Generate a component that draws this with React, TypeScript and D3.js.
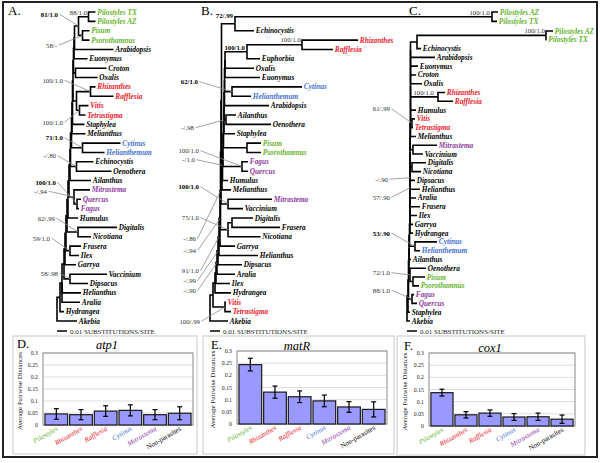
import React from "react";
import * as d3 from "d3";

// ---------------- DATA ----------------
// Phylograms (Newick, branch lengths in substitutions/site), leaves listed top to bottom
const NEWICK_A = [
  "((((((((((",
  "((((((((",
  "((Pilostyles TX:0.007,Pilostyles AZ:0.007):0.010,(Pisum:0.007,Psorothamnus:0.007):0.004):0.004",
  ",Arabidopsis:0.039):0.0005",
  ",Euonymus:0.0135):0.0005",
  ",(Croton:0.031,Oxalis:0.022):0.002):0.0005",
  ",((Rhizanthes:0.005,Rafflesia:0.023):0.014,(Vitis:0.009,Tetrastigma:0.006):0.003):0.0035):0.0005",
  ",Staphylea:0.012):0.0005",
  ",Melianthus:0.0135):0.0005",
  ",(Cytinus:0.038,Helianthemum:0.022):0.011):0.001",
  ",(Echinocystis:0.017,Oenothera:0.035):0.006):0.0005",
  ",Ailanthus:0.021):0.001",
  ",(Mitrastema:0.016,(Quercus:0.004,Fagus:0.002):0.003):0.005):0.001",
  ",Humulus:0.010):0.001",
  ",(Digitalis:0.039,Nicotiana:0.013):0.011):0.001",
  ",(Frasera:0.011,Ilex:0.009):0.004):0.001",
  ",Garrya:0.011):0.001",
  ",(Vaccinium:0.037,Dipsacus:0.018):0.006):0.002",
  ",Helianthus:0.019,Aralia:0.018):0.002",
  ",Hydrangea:0.004):0.003",
  ",Akebia:0.020);",
].join("");

const NEWICK_B = [
  "((((((((((",
  "(((Pilostyles AZ:0.006,Pilostyles TX:0.005):0.257,Echinocystis:0.019):0.0135,",
  "(((((((((",
  "(((Rhizanthes:0.056,Rafflesia:0.031):0.055,Euphorbia:0.013):0.022,Oxalis:0.029):0",
  ",Euonymus:0.035):0.0005",
  ",(Cytinus:0.070,Helianthemum:0.019):0.0075):0",
  ",Arabidopsis:0.0445):0.0005",
  ",(Ailanthus:0.010,Oenothera:0.045):0.002):0",
  ",Staphylea:0.011):0.0005",
  ",(Pisum:0.014,Psorothamnus:0.014):0.0235):0.0005",
  ",(Fagus:0.006,Quercus:0.006):0.019):0.0005",
  ",Humulus:0.0055):0.0005",
  ",Melianthus:0.009):0.0005",
  "):0.0005",
  ",(Mitrastema:0.044,Vaccinium:0.015):0.007):0.0005",
  ",((Digitalis:0.021,Frasera:0.048):0.004,Nicotiana:0.0325):0.0075):0.0005",
  ",Garrya:0.015):0.001",
  ",Helianthus:0.039):0.001",
  ",Dipsacus:0.024):0.001",
  ",Aralia:0.018):0.001",
  ",Ilex:0.014):0.001",
  ",Hydrangea:0.016):0.002",
  ",(Vitis:0.001,Tetrastigma:0.006):0.012):0.003",
  ",Akebia:0.018);",
].join("");

const NEWICK_C = [
  "((((((((((",
  "((((((((((",
  "(((",
  "((Pilostyles AZ:0.007,Pilostyles TX:0.0005):0.129,Echinocystis:0.004):0.0065",
  ",Arabidopsis:0.0245):0",
  ",Euonymus:0.0075):0",
  ",Croton:0.0055):0",
  ",Oxalis:0.0115):0",
  ",(Rhizanthes:0.007,Rafflesia:0.015):0.0275):0",
  ",Humulus:0.0055):0",
  ",(Vitis:0.003,Tetrastigma:0.001):0.0015):0",
  ",Melianthus:0.0055):0.0005",
  ",(Mitrastema:0.024,Vaccinium:0.010):0.003):0",
  ",(Digitalis:0.014,Nicotiana:0.009):0.002):0",
  ",Dipsacus:0.005):0",
  ",Helianthus:0.010):0",
  ",Aralia:0.006):0",
  ",Frasera:0.010):0",
  ",Ilex:0.007):0",
  ",Garrya:0.003):0",
  ",Hydrangea:0.003):0.0005",
  ",(Cytinus:0.022,Helianthemum:0.005):0.0055):0.0005",
  ",Ailanthus:0.002):0",
  ",(Oenothera:0.016,(Pisum:0.012,Psorothamnus:0.006):0.003):0.001):0.0005",
  ",(Fagus:0.002,Quercus:0.005):0.0035):0.0005",
  ",Staphylea:0.002):0.001",
  ",Akebia:0.003);",
].join("");

// Support values: [text, leaf 1, leaf 2 (clade = their MRCA), bold]
const SUPPORT_A: [string, string, string, boolean][] = [
  ["88/1.0", "Pilostyles TX", "Pilostyles AZ", false],
  ["81/1.0", "Pilostyles TX", "Psorothamnus", true],
  ["58/-", "Pisum", "Psorothamnus", false],
  ["100/1.0", "Rhizanthes", "Rafflesia", false],
  ["100/1.0", "Vitis", "Tetrastigma", false],
  ["71/1.0", "Cytinus", "Helianthemum", true],
  ["-/.80", "Echinocystis", "Oenothera", false],
  ["100/1.0", "Quercus", "Fagus", true],
  ["-/.94", "Mitrastema", "Fagus", false],
  ["62/.99", "Digitalis", "Nicotiana", false],
  ["59/1.0", "Frasera", "Ilex", false],
  ["58/.98", "Vaccinium", "Dipsacus", false],
];
const SUPPORT_B: [string, string, string, boolean][] = [
  ["100/1.0", "Pilostyles AZ", "Pilostyles TX", false],
  ["72/.99", "Pilostyles AZ", "Echinocystis", true],
  ["100/1.0", "Rhizanthes", "Rafflesia", false],
  ["100/1.0", "Rhizanthes", "Euphorbia", true],
  ["62/1.0", "Cytinus", "Helianthemum", true],
  ["-/.98", "Staphylea", "Cytinus", false],
  ["100/1.0", "Fagus", "Quercus", false],
  ["-/1.0", "Fagus", "Humulus", false],
  ["100/1.0", "Mitrastema", "Vaccinium", true],
  ["75/1.0", "Digitalis", "Nicotiana", false],
  ["-/.86", "Mitrastema", "Digitalis", false],
  ["-/.94", "Digitalis", "Garrya", false],
  ["91/1.0", "Garrya", "Helianthus", false],
  ["-/.99", "Helianthus", "Dipsacus", false],
  ["-/.90", "Dipsacus", "Aralia", false],
  ["100/.99", "Vitis", "Tetrastigma", false],
];
const SUPPORT_C: [string, string, string, boolean][] = [
  ["100/1.0", "Pilostyles AZ", "Pilostyles TX", false],
  ["100/1.0", "Rhizanthes", "Rafflesia", false],
  ["61/.99", "Vitis", "Tetrastigma", false],
  ["-/.90", "Dipsacus", "Helianthus", false],
  ["57/.90", "Helianthus", "Aralia", false],
  ["53/.90", "Cytinus", "Helianthemum", true],
  ["72/1.0", "Oenothera", "Pisum", false],
  ["88/1.0", "Fagus", "Quercus", false],
];

// Taxon colour groups
const GREEN_TAXA = ["Pilostyles", "Pisum", "Psorothamnus"];
const RED_TAXA = ["Rhizanthes", "Rafflesia", "Vitis", "Tetrastigma"];
const BLUE_TAXA = ["Cytinus", "Helianthemum"];
const PURPLE_TAXA = ["Mitrastema", "Quercus", "Fagus"];

// Bar charts: average pairwise distances
const CATEGORIES = ["Pilostyles", "Rhizanthes", "Rafflesia", "Cytinus", "Mitrastema", "Non-parasites"];
const ATP1_MEAN = [0.046, 0.043, 0.058, 0.061, 0.043, 0.049];
const ATP1_ERR = [0.022, 0.021, 0.022, 0.023, 0.021, 0.027];
const MATR_MEAN = [0.244, 0.131, 0.112, 0.095, 0.07, 0.06];
const MATR_ERR = [0.026, 0.025, 0.024, 0.024, 0.022, 0.031];
const COX1_MEAN = [0.137, 0.046, 0.053, 0.037, 0.038, 0.028];
const COX1_ERR = [0.014, 0.013, 0.013, 0.014, 0.015, 0.017];
const Y_TICKS = [0, 0.05, 0.1, 0.15, 0.2, 0.25, 0.3];
const Y_TICK_LABELS = ["0", "0.05", "0.1", "0.15", "0.2", "0.25", "0.3"];

// ---------------- LAYOUT (support label placement: [textEndX, baselineY, leader]) ----------------
const POS_A: [number, number, boolean][] = [
  [87, 14.5, false], [58, 16.5, true], [57, 47.5, true], [63, 82.5, true], [63, 124.5, true],
  [63, 140, true], [56, 158, true], [56, 184.5, true], [47, 193.5, true], [55, 220.5, true],
  [50, 240.5, true], [58, 275.5, true],
];
const POS_B: [number, number, boolean][] = [
  [490, 14.5, false], [233, 17.5, false], [301, 41.5, false], [245, 49.5, false],
  [198, 84, true], [194, 130, true], [199, 153, true], [195, 162, true], [199, 189, true],
  [199, 220, true], [196, 241, true], [196, 253, true], [199, 273, true], [196, 283, true],
  [196, 293, true], [200, 323.5, true],
];
const POS_C: [number, number, boolean][] = [
  [545, 32.5, false], [434, 94.5, false], [390, 111, true], [388, 181.5, true],
  [390, 199.5, true], [390, 235.5, true], [390, 275, true], [390, 292.5, true],
];

const COLORS = { green: "#66b32e", red: "#e8202a", blue: "#3f6fcf", purple: "#8e3a9d" };
const FONT = "'Liberation Serif', 'Times New Roman', serif";

function colorOf(name: string): string {
  if (GREEN_TAXA.some((t) => name.startsWith(t))) return COLORS.green;
  if (RED_TAXA.some((t) => name.startsWith(t))) return COLORS.red;
  if (BLUE_TAXA.some((t) => name.startsWith(t))) return COLORS.blue;
  if (PURPLE_TAXA.some((t) => name.startsWith(t))) return COLORS.purple;
  return "#000";
}

type PNode = { name: string; length: number; children?: PNode[] };

function parseNewick(s: string): PNode {
  let i = 0;
  const read = (): PNode => {
    const n: PNode = { name: "", length: 0 };
    if (s[i] === "(") {
      n.children = [];
      i++;
      n.children.push(read());
      while (s[i] === ",") {
        i++;
        n.children.push(read());
      }
      i++;
    }
    let name = "";
    while (i < s.length && !",():;".includes(s[i])) name += s[i++];
    n.name = name.trim();
    if (s[i] === ":") {
      i++;
      let num = "";
      while (i < s.length && !",();".includes(s[i])) num += s[i++];
      n.length = parseFloat(num);
    }
    return n;
  };
  return read();
}

function Tree(props: {
  newick: string;
  supports: [string, string, string, boolean][];
  pos: [number, number, boolean][];
  x0: number;
  pxPerUnit: number;
  yTop: number;
  yBottom: number;
  scaleY: number;
}) {
  const { newick, supports, pos, x0, pxPerUnit, yTop, yBottom, scaleY } = props;
  const root = d3.hierarchy<PNode>(parseNewick(newick), (d) => d.children);
  const leaves = root.leaves();
  const yScale = d3.scalePoint<string>().domain(leaves.map((l) => l.data.name)).range([yTop, yBottom]);
  const xScale = d3.scaleLinear().domain([0, 1]).range([x0, x0 + pxPerUnit]);
  const dist = new Map<any, number>();
  const ypos = new Map<any, number>();
  root.eachBefore((n) => dist.set(n, n.parent ? (dist.get(n.parent) as number) + n.data.length : 0));
  root.eachAfter((n) =>
    ypos.set(
      n,
      n.children
        ? ((ypos.get(n.children[0]) as number) + (ypos.get(n.children[n.children.length - 1]) as number)) / 2
        : (yScale(n.data.name) as number)
    )
  );
  const X = (n: any) => xScale(dist.get(n) as number);
  const Y = (n: any) => ypos.get(n) as number;
  const mrca = (a: string, b: string) => {
    const la = leaves.find((l) => l.data.name === a)!;
    const lb = leaves.find((l) => l.data.name === b)!;
    const setB = new Set(lb.ancestors());
    return la.ancestors().find((n) => setB.has(n))!;
  };
  const links = root.descendants().filter((n) => n.parent);
  const barLen = xScale(0.01) - xScale(0);
  return (
    <g>
      {links.map((n, i) => (
        <path
          key={i}
          d={`M${X(n.parent)},${Y(n.parent)}V${Y(n)}H${X(n)}`}
          fill="none"
          stroke="#000"
          strokeWidth={1.6}
        />
      ))}
      {leaves.map((l, i) => (
        <text
          key={"l" + i}
          x={X(l) + 1.8}
          y={Y(l) + 2.5}
          fontSize={7.3}
          fontStyle="italic"
          fontWeight="bold"
          fill={colorOf(l.data.name)}
        >
          {l.data.name}
        </text>
      ))}
      {supports.map(([t, a, b, bold], i) => {
        const node = mrca(a, b);
        const [tx, ty, leader] = pos[i];
        return (
          <g key={"s" + i}>
            {leader && (
              <line x1={tx + 1.5} y1={ty - 2.3} x2={X(node)} y2={Y(node)} stroke="#8c8c8c" strokeWidth={0.8} />
            )}
            <text
              x={tx}
              y={ty}
              textAnchor="end"
              fontSize={6.8}
              fontWeight={bold ? "bold" : "normal"}
              fill={bold ? "#000" : "#333"}
            >
              {t}
            </text>
          </g>
        );
      })}
      <line x1={xScale(0)} x2={xScale(0) + barLen} y1={scaleY} y2={scaleY} stroke="#000" strokeWidth={1.5} />
      <text x={xScale(0) + barLen + 3} y={scaleY + 2.5} fontSize={7} fill="#222">
        0.01 SUBSTITUTIONS/SITE
      </text>
    </g>
  );
}

function BarPanel(props: {
  box: [number, number, number, number];
  plot: [number, number, number, number];
  letter: string;
  letterPos: [number, number];
  title: string;
  titlePos: [number, number];
  yTitleX: number;
  means: number[];
  errs: number[];
}) {
  const { box, plot, letter, letterPos, title, titlePos, yTitleX, means, errs } = props;
  const [px0, py0, px1, py1] = plot;
  const x = d3.scaleBand<string>().domain(CATEGORIES).range([px0, px1]).paddingInner(0.08).paddingOuter(0.08);
  const y = d3.scaleLinear().domain([0, 0.3]).range([py1, py0]);
  return (
    <g>
      <rect x={box[0]} y={box[1]} width={box[2]} height={box[3]} fill="#fff" stroke="#c8c8c8" strokeWidth={1} />
      <text x={letterPos[0]} y={letterPos[1]} fontSize={12.5} fill="#000">
        {letter}
      </text>
      <text x={titlePos[0]} y={titlePos[1]} fontSize={12.5} fontStyle="italic" textAnchor="middle" fill="#000">
        {title}
      </text>
      {Y_TICKS.map((t, i) => (
        <g key={i}>
          {t > 0 && <line x1={px0} x2={px1} y1={y(t)} y2={y(t)} stroke="#d4d4d4" strokeWidth={0.8} />}
          <text x={px0 - 5} y={y(t) + 2} fontSize={5.8} textAnchor="end" fill="#222">
            {Y_TICK_LABELS[i]}
          </text>
        </g>
      ))}
      <rect x={px0} y={py0} width={px1 - px0} height={py1 - py0} fill="none" stroke="#8a8a8a" strokeWidth={1} />
      {CATEGORIES.map((c, i) => {
        const bx = x(c) as number;
        const bw = x.bandwidth();
        const cx = bx + bw / 2;
        return (
          <g key={c}>
            <rect x={bx} y={y(means[i])} width={bw} height={y(0) - y(means[i])} fill="#9999ff" stroke="#1a1a1a" strokeWidth={1.2} />
            <line x1={cx} x2={cx} y1={y(means[i] + errs[i])} y2={y(means[i] - errs[i])} stroke="#000" strokeWidth={1.2} />
            <line x1={cx - 2.5} x2={cx + 2.5} y1={y(means[i] + errs[i])} y2={y(means[i] + errs[i])} stroke="#000" strokeWidth={1.2} />
            <line x1={cx - 2.5} x2={cx + 2.5} y1={y(means[i] - errs[i])} y2={y(means[i] - errs[i])} stroke="#000" strokeWidth={1.2} />
            <text
              transform={`translate(${cx + 2},${py1 + 5}) rotate(-30)`}
              textAnchor="end"
              fontSize={7}
              fontStyle={c === "Non-parasites" ? "normal" : "italic"}
              fill={colorOf(c)}
            >
              {c}
            </text>
          </g>
        );
      })}
      <text
        transform={`translate(${yTitleX},${(py0 + py1) / 2 + 2}) rotate(-90)`}
        textAnchor="middle"
        fontSize={7}
        fill="#222"
      >
        Average Pairwise Distances
      </text>
    </g>
  );
}

export default function App() {
  return (
    <svg
      width={600}
      height={463}
      style={{ position: "absolute", left: 0, top: 0, background: "#fff" }}
      fontFamily={FONT}
    >
      <rect x={0} y={0} width={600} height={463} fill="#fff" />
      <rect x={3} y={2} width={594} height={455} fill="none" stroke="#222" strokeWidth={2} />
      <text x={8} y={15} fontSize={13}>A.</text>
      <text x={201} y={15} fontSize={13}>B.</text>
      <text x={409} y={15} fontSize={13}>C.</text>
      <Tree newick={NEWICK_A} supports={SUPPORT_A} pos={POS_A} x0={57} pxPerUnit={1000} yTop={12} yBottom={321} scaleY={331} />
      <Tree newick={NEWICK_B} supports={SUPPORT_B} pos={POS_B} x0={210} pxPerUnit={1000} yTop={12} yBottom={321} scaleY={331} />
      <Tree newick={NEWICK_C} supports={SUPPORT_C} pos={POS_C} x0={407} pxPerUnit={1000} yTop={31} yBottom={321} scaleY={331} />
      <BarPanel box={[13, 336, 184, 118]} plot={[43, 353, 193, 425]} letter="D." letterPos={[17, 348]} title="atp1" titlePos={[107, 349]} yTitleX={22} means={ATP1_MEAN} errs={ATP1_ERR} />
      <BarPanel box={[203, 336, 191, 118]} plot={[237, 351, 387, 424]} letter="E." letterPos={[211, 349]} title="matR" titlePos={[297, 350]} yTitleX={215} means={MATR_MEAN} errs={MATR_ERR} />
      <BarPanel box={[397, 336, 188, 119]} plot={[429, 353, 575, 426]} letter="F." letterPos={[404, 350]} title="cox1" titlePos={[490, 352]} yTitleX={407} means={COX1_MEAN} errs={COX1_ERR} />
    </svg>
  );
}
